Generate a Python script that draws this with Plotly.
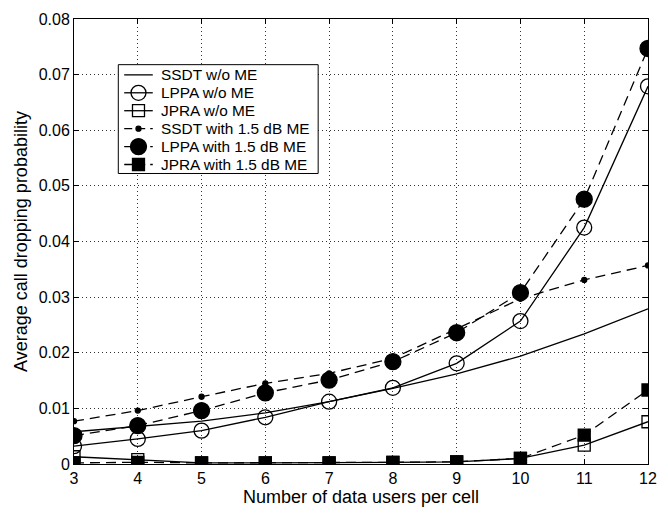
import plotly.graph_objects as go

users = [3, 4, 5, 6, 7, 8, 9, 10, 11, 12]

ssdt_wo = [0.0058, 0.0068, 0.0077, 0.0092, 0.0112, 0.0136, 0.0162, 0.0194, 0.0234, 0.0279]
lppa_wo = [0.0032, 0.0045, 0.0060, 0.0084, 0.0112, 0.0137, 0.0181, 0.0257, 0.0425, 0.0679]
jpra_wo = [0.0013, 0.0008, 0.0002, 0.0002, 0.0002, 0.0003, 0.0004, 0.0010, 0.0034, 0.0076]
ssdt_me = [0.0077, 0.0096, 0.0121, 0.0145, 0.0163, 0.0190, 0.0243, 0.0297, 0.0331, 0.0357]
lppa_me = [0.0051, 0.0069, 0.0096, 0.0128, 0.0151, 0.0184, 0.0236, 0.0308, 0.0476, 0.0747]
jpra_me = [0.0002, 0.0003, 0.0002, 0.0002, 0.0002, 0.0003, 0.0004, 0.0010, 0.0052, 0.0133]

names = ["SSDT w/o ME", "LPPA w/o ME", "JPRA w/o ME",
         "SSDT with 1.5 dB ME", "LPPA with 1.5 dB ME", "JPRA with 1.5 dB ME"]

y_ticks = [0, 0.01, 0.02, 0.03, 0.04, 0.05, 0.06, 0.07, 0.08]
y_tick_text = ["0", "0.01", "0.02", "0.03", "0.04", "0.05", "0.06", "0.07", "0.08"]

series = [ssdt_wo, lppa_wo, jpra_wo, ssdt_me, lppa_me, jpra_me]
styles = [
    dict(mode="lines", dash="solid", symbol="circle", size=1),
    dict(mode="lines+markers", dash="solid", symbol="circle-open", size=15),
    dict(mode="lines+markers", dash="solid", symbol="square-open", size=12),
    dict(mode="lines+markers", dash="10px,6px", symbol="circle", size=5),
    dict(mode="lines+markers", dash="10px,6px", symbol="circle", size=16),
    dict(mode="lines+markers", dash="10px,6px", symbol="square", size=12),
]

fig = go.Figure()
for name, vals, st in zip(names, series, styles):
    fig.add_trace(go.Scatter(
        x=users, y=vals, name=name, mode=st["mode"], showlegend=False,
        line=dict(color="black", width=1.3, dash=st["dash"]),
        marker=dict(symbol=st["symbol"], size=st["size"], color="black",
                    line=dict(color="black", width=1.3)),
    ))

# ---- custom legend drawn on an overlay axis spanning the plot area [0,1]x[0,1] ----
PX_L, PX_R, PX_T, PX_B = 74, 657, 13, 471
def px_x(p):
    return (p - PX_L) / (PX_R - PX_L)
def px_y(p):
    return (PX_B - p) / (PX_B - PX_T)

box_l, box_r, box_t, box_b = 119, 322, 60, 172
row0, row_gap = 70.5, 18.45
samp_l, samp_r, text_x = 125, 154, 160

fig.add_trace(go.Scatter(
    x=[px_x(box_l), px_x(box_r), px_x(box_r), px_x(box_l), px_x(box_l)],
    y=[px_y(box_b), px_y(box_b), px_y(box_t), px_y(box_t), px_y(box_b)],
    mode="lines", fill="toself", fillcolor="white",
    line=dict(color="black", width=1),
    xaxis="x2", yaxis="y2", showlegend=False, hoverinfo="skip"))

for i, (name, st) in enumerate(zip(names, styles)):
    yy = px_y(row0 + i * row_gap)
    fig.add_trace(go.Scatter(
        x=[px_x(samp_l), px_x(samp_r)], y=[yy, yy], mode="lines",
        line=dict(color="black", width=1.3, dash=st["dash"] if st["dash"] == "solid" else "8px,5px"),
        xaxis="x2", yaxis="y2", showlegend=False, hoverinfo="skip"))
    if st["mode"] != "lines":
        fig.add_trace(go.Scatter(
            x=[px_x((samp_l + samp_r) / 2)], y=[yy], mode="markers",
            marker=dict(symbol=st["symbol"], size=st["size"], color="black",
                        line=dict(color="black", width=1.3)),
            xaxis="x2", yaxis="y2", showlegend=False, hoverinfo="skip"))
    fig.add_annotation(x=px_x(text_x), y=yy, xref="paper", yref="paper",
                       text=name, showarrow=False, xanchor="left", yanchor="middle",
                       font=dict(size=15.4, color="black"))

axis_common = dict(
    showline=True, linecolor="black", linewidth=1, mirror="ticks",
    ticks="inside", ticklen=5, tickcolor="black",
    showgrid=True, gridcolor="#333333", gridwidth=1, griddash="1px,3px",
    zeroline=False,
    tickfont=dict(size=16, color="black"),
)

fig.update_xaxes(range=[3, 12], tickvals=users,
                 title=dict(text="Number of data users per cell", font=dict(size=18, color="black"), standoff=3),
                 **axis_common)
fig.update_yaxes(range=[0, 0.08], tickvals=y_ticks, ticktext=y_tick_text,
                 title=dict(text="Average call dropping probability", font=dict(size=18, color="black"), standoff=6),
                 **axis_common)

fig.update_layout(
    width=668, height=514,
    margin=dict(l=74, r=11, t=13, b=43),
    plot_bgcolor="white", paper_bgcolor="white",
    font=dict(family="Liberation Sans, Arial, sans-serif", color="black"),
    xaxis2=dict(overlaying="x", range=[0, 1], visible=False, fixedrange=True),
    yaxis2=dict(overlaying="y", range=[0, 1], visible=False, fixedrange=True),
    showlegend=False,
)

fig.write_html("out.html")
